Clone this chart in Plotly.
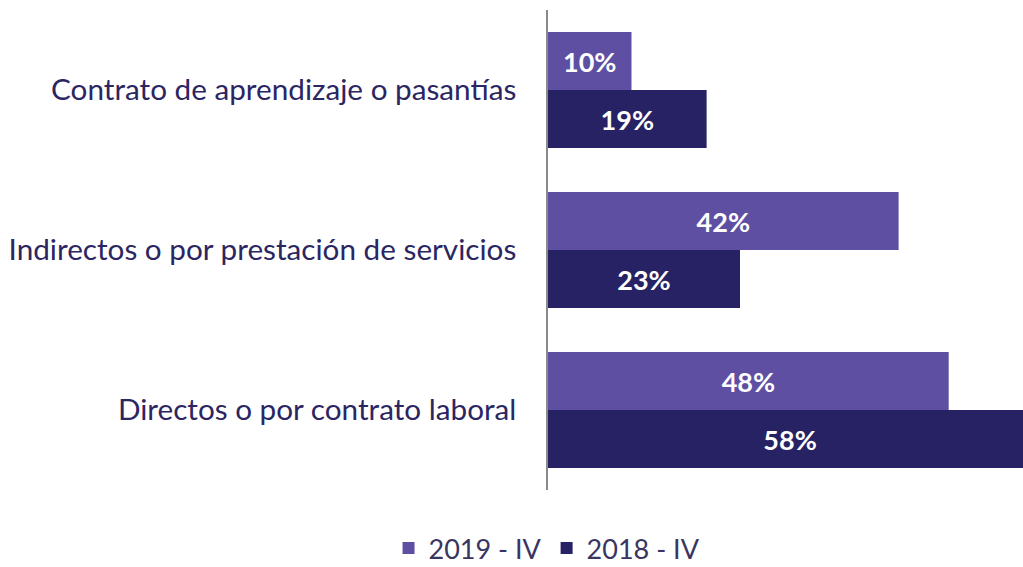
import plotly.graph_objects as go

categories = ["Contrato de aprendizaje o pasantías",
              "Indirectos o por prestación de servicios",
              "Directos o por contrato laboral"]
series_names = ["2019 - IV", "2018 - IV"]
values_2019 = [10, 42, 48]
values_2018 = [19, 23, 58]
colors = ["#5E4FA3", "#272264"]

fig = go.Figure()
for name, vals, col in zip(series_names, [values_2019, values_2018], colors):
    fig.add_trace(go.Bar(
        y=categories, x=vals, name=name, orientation="h",
        marker=dict(color=col, line=dict(width=0)),
        text=[f"{v}%" for v in vals],
        textposition="inside", insidetextanchor="middle",
        textfont=dict(family="Lato", size=27, color="white", weight="bold"),
    ))

fig.update_layout(
    width=1023, height=567,
    margin=dict(l=548, r=0, t=10, b=77, autoexpand=False),
    plot_bgcolor="white", paper_bgcolor="white",
    barmode="group", bargap=0.275, bargroupgap=0,
    showlegend=True,
    legend=dict(orientation="h",
                x=-0.002, y=-0.122, xanchor="center", yanchor="middle",
                font=dict(family="Lato", size=27, color="#3a3560"),
                borderwidth=0, itemwidth=30, traceorder="normal"),
)
fig.update_xaxes(range=[0, 56.9], visible=False, showgrid=False, zeroline=False)
fig.update_yaxes(autorange="reversed", showline=True, linecolor="#8a8a8a", linewidth=1.5,
                 showgrid=False, ticks="", ticklabelstandoff=24, automargin=False,
                 tickfont=dict(family="Lato", size=29.7, color="#2B2662"))

fig.write_html("out.html", config={"displayModeBar": False},
               post_script="document.body.style.margin='0';document.body.style.overflow='hidden';")
